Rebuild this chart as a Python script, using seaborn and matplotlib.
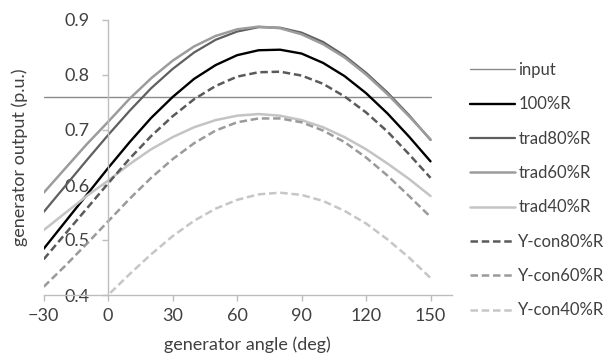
import numpy as np
import pandas as pd
import matplotlib
matplotlib.use("Agg")
import matplotlib.pyplot as plt
import seaborn as sns

angles = [-30, -20, -10, 0, 10, 20, 30, 40, 50, 60, 70, 80, 90, 100, 110, 120, 130, 140, 150]
input_angles = [-30, 150]
input_level = [0.76, 0.76]
r100 = [0.484, 0.533, 0.582, 0.631, 0.678, 0.722, 0.760, 0.793, 0.818, 0.836, 0.845, 0.846, 0.839, 0.822, 0.798, 0.767, 0.730, 0.688, 0.643]
trad80 = [0.551, 0.598, 0.645, 0.691, 0.735, 0.776, 0.811, 0.841, 0.864, 0.879, 0.887, 0.886, 0.877, 0.860, 0.835, 0.804, 0.768, 0.727, 0.682]
trad60 = [0.586, 0.630, 0.674, 0.715, 0.757, 0.794, 0.826, 0.852, 0.871, 0.883, 0.888, 0.885, 0.874, 0.856, 0.832, 0.801, 0.765, 0.725, 0.683]
trad40 = [0.518, 0.549, 0.580, 0.608, 0.638, 0.665, 0.687, 0.705, 0.718, 0.726, 0.729, 0.726, 0.718, 0.705, 0.687, 0.665, 0.639, 0.611, 0.580]
ycon80 = [0.465, 0.511, 0.557, 0.603, 0.648, 0.689, 0.725, 0.756, 0.780, 0.797, 0.805, 0.806, 0.799, 0.784, 0.761, 0.732, 0.697, 0.656, 0.613]
ycon60 = [0.415, 0.453, 0.493, 0.534, 0.575, 0.613, 0.647, 0.676, 0.699, 0.714, 0.721, 0.721, 0.714, 0.699, 0.678, 0.650, 0.617, 0.580, 0.542]
ycon40 = [0.281, 0.320, 0.360, 0.400, 0.438, 0.474, 0.507, 0.535, 0.557, 0.573, 0.583, 0.586, 0.582, 0.571, 0.553, 0.530, 0.501, 0.468, 0.431]

x_ticks = [-30, 0, 30, 60, 90, 120, 150]
y_ticks = [0.4, 0.5, 0.6, 0.7, 0.8, 0.9]

sns.set_theme(style="white")
plt.rcParams['font.family'] = ['Lato', 'DejaVu Sans']

fig = plt.figure(figsize=(6.08, 3.56), dpi=100)
ax = fig.add_axes([43.7 / 608, 1 - 295 / 356, (452 - 43.7) / 608, 275 / 356])

series = [
    ("input", input_angles, input_level, "#8a8a8a", 1.0, "-"),
    ("100%R", angles, r100, "#000000", 1.7, "-"),
    ("trad80%R", angles, trad80, "#5f5f5f", 1.6, "-"),
    ("trad60%R", angles, trad60, "#9c9c9c", 1.8, "-"),
    ("trad40%R", angles, trad40, "#c4c4c4", 1.8, "-"),
    ("Y-con80%R", angles, ycon80, "#5a5a5a", 1.8, (0, (3.0, 1.5))),
    ("Y-con60%R", angles, ycon60, "#9a9a9a", 1.8, (0, (3.0, 1.5))),
    ("Y-con40%R", angles, ycon40, "#c6c6c6", 1.8, (0, (3.0, 1.5))),
]

for name, xs, ys, col, lw, ls in series:
    df = pd.DataFrame({"angle": xs, "output": ys})
    sns.lineplot(data=df, x="angle", y="output", ax=ax, color=col, linewidth=lw,
                 linestyle=ls, label=name, estimator=None, sort=False)

ax.set_xlim(-30, 160)
ax.set_ylim(0.4, 0.9)
ax.set_xticks(x_ticks)
ax.set_yticks(y_ticks)
ax.set_yticklabels([f"{v:.1f}" for v in y_ticks])

spine_col = "#bdbdbd"
for s in ["top", "right"]:
    ax.spines[s].set_visible(False)
ax.spines["left"].set_position(("data", 0))
ax.spines["left"].set_color(spine_col)
ax.spines["bottom"].set_color(spine_col)
ax.spines["left"].set_linewidth(1.0)
ax.spines["bottom"].set_linewidth(1.0)

fs = 13
txt_col = "#404040"
ax.tick_params(axis="both", which="both", direction="out", length=4.5, width=1.0,
               color=spine_col, labelcolor=txt_col, labelsize=fs)
ax.tick_params(axis="y", pad=9)
ax.tick_params(axis="x", pad=5)
ax.tick_params(left=True, bottom=True)

ax.set_xlabel("generator angle (deg)", fontsize=fs, color=txt_col)
ax.set_ylabel("generator output (p.u.)", fontsize=fs, color=txt_col)
ax.xaxis.set_label_coords(0.5, -0.15)
ax.yaxis.set_label_coords(-0.038, 0.5)

handles, labels = ax.get_legend_handles_labels()
if ax.get_legend():
    ax.get_legend().remove()
lfs = 12
leg = fig.legend(handles, labels, loc="upper left",
                 bbox_to_anchor=(470 / 608, 1 - 62 / 356), frameon=False,
                 fontsize=lfs, handlelength=2.7, handletextpad=0.2,
                 labelspacing=1.1, borderpad=0, borderaxespad=0)
for t in leg.get_texts():
    t.set_color(txt_col)

fig.savefig("out.png", dpi=100)
